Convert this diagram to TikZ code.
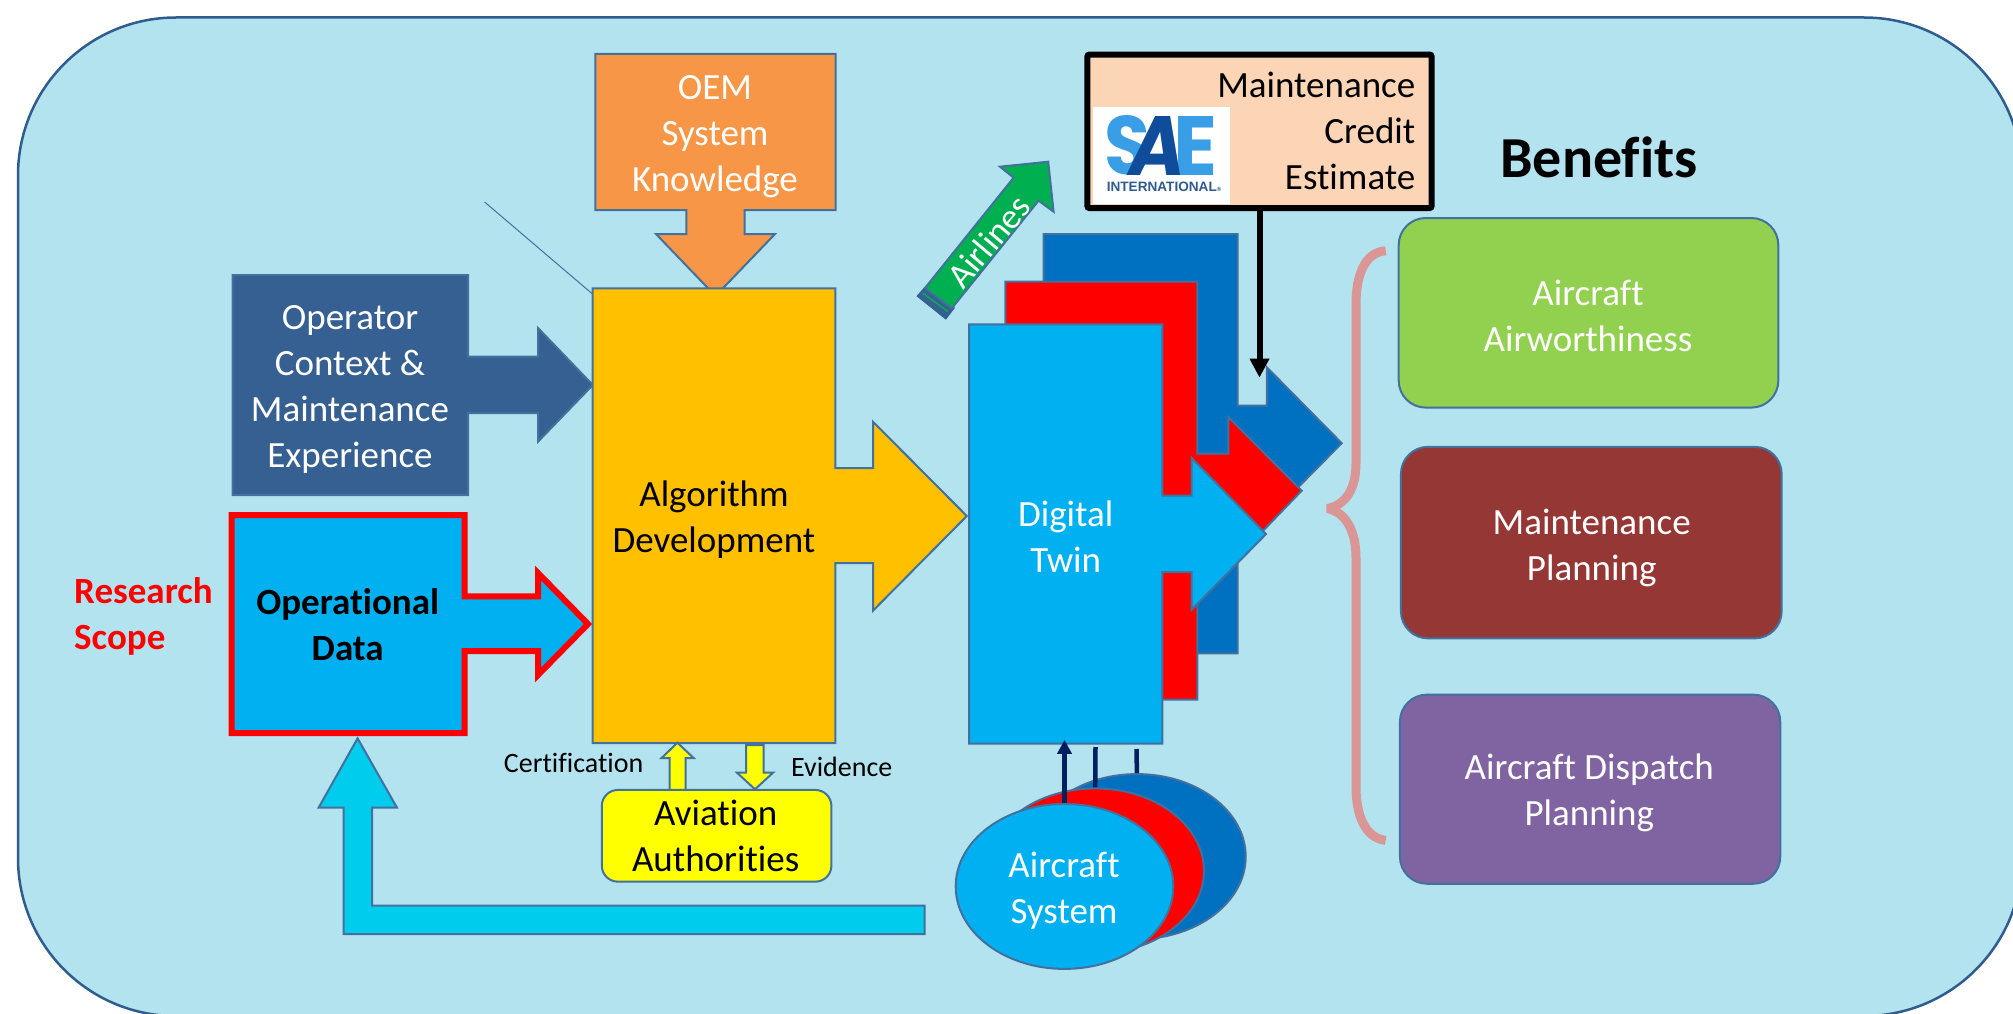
\documentclass[tikz,border=0pt]{standalone}
\usepackage{fontspec}
\usepackage{graphicx}
\usetikzlibrary{arrows.meta,shapes.geometric}
\setmainfont{Carlito}[Ligatures=CommonOff]
\newfontfamily\logofont{Liberation Sans}
\newfontfamily\logoheavy{Poppins}
\definecolor{bgblue}{HTML}{B4E3F0}
\definecolor{edge}{HTML}{41719C}
\definecolor{bgedge}{HTML}{2F5C8F}
\definecolor{algo}{HTML}{FFC000}
\definecolor{oem}{HTML}{F79646}
\definecolor{oper}{HTML}{376092}
\definecolor{sky}{HTML}{00B0F0}
\definecolor{deepblue}{HTML}{0070C0}
\definecolor{cyanarrow}{HTML}{00CCEE}
\definecolor{navyline}{HTML}{002060}
\definecolor{airgreen}{HTML}{00B050}
\definecolor{peach}{HTML}{FBD5B5}
\definecolor{bgreen}{HTML}{92D050}
\definecolor{bbrown}{HTML}{953735}
\definecolor{bpurple}{HTML}{8064A2}
\definecolor{bracecol}{HTML}{D99694}
\definecolor{saelight}{HTML}{3A9EE6}
\definecolor{saedark}{HTML}{0F4C9A}
\definecolor{saetext}{HTML}{2F5A8E}
\definecolor{authyellow}{HTML}{FFFF00}
\tikzset{
  blockshape/.style={draw=edge,line width=2pt,line join=miter,miter limit=10},
  txt/.style={inner sep=0pt,align=center,anchor=base,font=\fontsize{37}{46}\selectfont},
  benefit/.style={draw=edge,line width=2pt,rectangle,rounded corners=27pt,inner sep=0pt},
  disc/.style={draw=edge,line width=2pt,ellipse,inner sep=0pt,minimum width=217.6pt,minimum height=165pt},
  navyconn/.style={draw=navyline,line width=4.5pt},
}
\begin{document}
\begin{tikzpicture}[x=1pt,y=-1pt]
\useasboundingbox (0,0) rectangle (2013,1014);
\fill[white] (0,0) rectangle (2013,1014);
\draw[fill=bgblue,draw=bgedge,line width=2.5pt,rounded corners=158pt] (18,17.5) rectangle (2022,1016);
% thin line
\draw[edge,line width=1pt] (484.6,202) -- (592.5,294);
% OEM
\draw[blockshape,fill=oem] (595.4,54) -- (835.7,54) -- (835.7,210) -- (744.6,210) -- (744.6,234) -- (775,234) -- (715.5,296) -- (656,234) -- (686.4,234) -- (686.4,210) -- (595.4,210) -- cycle;
\node[txt,white] (oemt) at (715,191) {OEM\\System\\Knowledge};
% Operator
\draw[blockshape,fill=oper] (232.7,275) -- (468,275) -- (468,356.7) -- (538,356.7) -- (538,328) -- (592.8,385) -- (538,441.7) -- (538,413) -- (468,413) -- (468,495) -- (232.7,495) -- cycle;
\node[txt,white] (opert) at (350,467) {Operator\\Context \&\\Maintenance\\Experience};
% Operational data
\draw[draw=red,line width=6pt,miter limit=10,fill=sky] (231.5,515) -- (464.5,515) -- (464.5,596.3) -- (538,596.3) -- (538,573) -- (588,624) -- (538,675) -- (538,651) -- (464.5,651) -- (464.5,733) -- (231.5,733) -- cycle;
\node[txt,font=\fontsize{37}{46}\selectfont\bfseries] (opdata) at (347.7,660.5) {Operational\\Data};
\node[txt,red,align=left,anchor=base west,font=\fontsize{37}{46}\selectfont\bfseries] (scope) at (74,649) {Research\\Scope};
% cyan feedback arrow
\draw[blockshape,fill=cyanarrow] (924.5,905.5) -- (372.2,905.5) -- (372.2,807.7) -- (397,807.7) -- (357.6,738.3) -- (318.6,807.7) -- (343.5,807.7) -- (343.5,934) -- (924.5,934) -- cycle;
% Algorithm
\draw[blockshape,fill=algo] (592.5,288.3) -- (835.4,288.3) -- (835.4,468) -- (873,468) -- (873,421.7) -- (966.8,516) -- (873,610.7) -- (873,563) -- (835.4,563) -- (835.4,743) -- (592.5,743) -- cycle;
\node[txt,font=\fontsize{37}{46}\selectfont] (algt) at (714,552.5) {Algorithm\\Development};
% yellow arrows
\draw[blockshape,fill=authyellow] (669.7,790) -- (669.7,758) -- (661.6,758) -- (677.4,742.7) -- (693.6,758) -- (685.5,758) -- (685.5,790) -- cycle;
\draw[blockshape,fill=authyellow] (746,745) -- (763.5,745) -- (763.5,772.7) -- (773,772.7) -- (755,789.3) -- (737,772.7) -- (746,772.7) -- cycle;
\node[benefit,fill=authyellow,rounded corners=16pt,minimum width=229.6pt,minimum height=91.7pt] (authbox) at (716.6,835.8) {};
\node[txt] (autht) at (715.7,871) {Aviation\\Authorities};
\node[inner sep=0pt,anchor=base west,font=\fontsize{28}{34}\selectfont] (cert) at (503.7,772.7) {Certification};
\node[inner sep=0pt,anchor=base west,font=\fontsize{28}{34}\selectfont] (evid) at (790.9,776.7) {Evidence};
% Digital twin stack
\draw[blockshape,fill=deepblue] (1043.6,234) -- (1237.6,234) -- (1237.6,405.7) -- (1266.8,405.7) -- (1266.8,367.3) -- (1341.7,443.2) -- (1266.8,519) -- (1266.8,481) -- (1237.6,481) -- (1237.6,653.4) -- (1043.6,653.4) -- cycle;
\draw[blockshape,fill=red] (1005.4,281.7) -- (1197.4,281.7) -- (1197.4,453.6) -- (1228.3,453.6) -- (1228.3,417) -- (1301.7,490.7) -- (1228.3,566.7) -- (1228.3,529) -- (1197.4,529) -- (1197.4,699.7) -- (1005.4,699.7) -- cycle;
\draw[blockshape,fill=sky] (969,324.3) -- (1162.4,324.3) -- (1162.4,495.7) -- (1191.7,495.7) -- (1191.7,458) -- (1266,534) -- (1191.7,609.7) -- (1191.7,572.2) -- (1162.4,572.2) -- (1162.4,743.7) -- (969,743.7) -- cycle;
\node[txt,white] (twint) at (1065.7,572) {Digital\\Twin};
% Airlines arrow
\draw[blockshape,fill=oper,draw=oper] (917.9,296) -- (945.7,318.3) -- (953.6,308) -- (925,288) -- cycle;
\draw[blockshape,fill=airgreen] (925,288) -- (1013.6,177.7) -- (1000,166.7) -- (1048.2,161.7) -- (1053.6,211.7) -- (1038.6,200.7) -- (951.8,308.3) -- cycle;
\draw[airgreen,line width=1.5pt] (922.5,293) -- (948,311.5);
\node[inner sep=0pt,rotate=50,white,font=\fontsize{35.5}{46}\selectfont] (airl) at (988.6,241.5) {Airlines};
% SAE box
\node[draw=black,fill=peach,line width=6pt,rectangle,rounded corners=2pt,inner sep=0pt,minimum width=344.2pt,minimum height=153.5pt] (saebox) at (1259.5,131.3) {};
\node[txt,align=right,anchor=base east] (saet) at (1415.5,189) {Maintenance\\Credit\\Estimate};
\fill[white] (1092.9,107.3) rectangle (1230.4,204);
\node[inner sep=0pt,text=saelight] (saes) at (1127,145.5) {\resizebox{46pt}{59pt}{\logoheavy\bfseries S}};
\node[inner sep=0pt,text=saelight] (saee) at (1196,145.5) {\resizebox{44pt}{59pt}{\logoheavy\bfseries E}};
\node[inner sep=0pt,text=saedark] (saea) at (1157,145.5) {\resizebox{56pt}{59pt}{\logoheavy\bfseries\itshape A}};
\node[inner sep=0pt,anchor=base,text=saetext,font=\logofont\fontsize{13.6}{15}\selectfont\bfseries] (saeint) at (1164,191.7) {INTERNATIONAL\raisebox{0pt}{\fontsize{6}{7}\selectfont ®}};
\coordinate (saein) at (1259.5,377.7);
\draw[black,line width=6pt,-{Triangle[length=19pt,width=18.6pt]}] (saebox.south) -- (saein);
% Aircraft system discs
\node[disc,fill=deepblue] (sysblue) at (1136.9,856.6) {};
\node[disc,fill=red] (sysred) at (1095.2,870.9) {};
\coordinate (twinred) at (1095.5,747);
\coordinate (twinblue) at (1136.5,749);
\coordinate (twinsky) at (1064.5,739.8);
\draw[navyconn] (sysblue.north) -- (twinblue);
\draw[navyconn] (sysred.north) -- (twinred);
\node[disc,fill=sky] (sysfront) at (1064.5,886.4) {};
\node[txt,white] (syst) at (1064,923.5) {Aircraft\\System};
\draw[navyconn,line width=5pt,-{Triangle[length=14pt,width=14pt]}] (sysfront.north) -- (twinsky);
% Brace
\draw[bracecol,line width=9pt,line cap=butt,line join=bevel] (1385.7,250.8) .. controls (1365,252) and (1356,275) .. (1356,304) -- (1356,463) .. controls (1356,490) and (1345,505) .. (1327.5,508.5) .. controls (1345,512) and (1356,530) .. (1356,557.8) -- (1356,786.7) .. controls (1356,815) and (1365,838) .. (1385.7,840.4);
% Benefits
\node[inner sep=0pt,anchor=base,font=\fontsize{58}{68}\selectfont\bfseries] (bentitle) at (1599,177.2) {Benefits};
\node[benefit,fill=bgreen,minimum width=379.6pt,minimum height=189.6pt] (b1) at (1588.5,312.8) {};
\node[txt,white] (b1t) at (1588,351) {Aircraft\\Airworthiness};
\node[benefit,fill=bbrown,minimum width=380.7pt,minimum height=191.5pt] (b2) at (1591.3,542.6) {};
\node[txt,white] (b2t) at (1591.7,580) {Maintenance\\Planning};
\node[benefit,fill=bpurple,minimum width=380.3pt,minimum height=189.1pt] (b3) at (1590.1,789.2) {};
\node[txt,white] (b3t) at (1589.3,825.5) {Aircraft Dispatch\\Planning};
\end{tikzpicture}
\end{document}
